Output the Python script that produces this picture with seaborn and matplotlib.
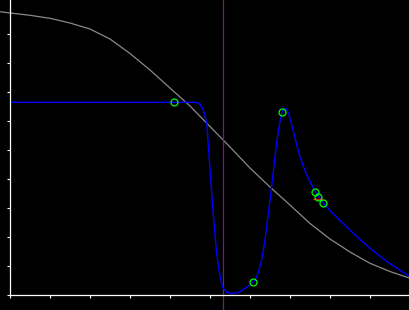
import numpy as np
import pandas as pd
import seaborn as sns
import matplotlib
matplotlib.use("Agg")
import matplotlib.pyplot as plt

# Gray reference curve
gray_x = [-0.25, 0.0, 0.5, 1.0, 1.5, 2.0, 2.5, 3.0, 3.5, 4.0, 4.5, 5.0, 5.5, 6.0,
          6.5, 7.0, 7.5, 8.0, 8.5, 9.0, 9.5, 10.0]
gray_y = [9.769, 9.724, 9.645, 9.541, 9.379, 9.172, 8.828, 8.328, 7.759, 7.138, 6.517,
          5.810, 5.103, 4.379, 3.724, 3.103, 2.466, 1.931, 1.483, 1.093, 0.810, 0.576]

# Blue response curve
blue_x = [0.0, 4.5, 4.62, 4.7, 4.76, 4.81, 4.85, 4.885, 4.92, 4.96, 5.02, 5.08, 5.15,
          5.21, 5.27, 5.33, 5.42, 5.5, 5.58, 5.67, 5.75, 5.92, 6.07, 6.17, 6.23, 6.29,
          6.375, 6.46, 6.54, 6.625, 6.71, 6.8, 6.85, 6.9, 6.95, 7.025, 7.1, 7.175, 7.25,
          7.35, 7.45, 7.55, 7.65, 7.825, 8.0, 8.175, 8.375, 8.575, 9.0, 9.425, 10.0]
blue_y = [6.645, 6.645, 6.645, 6.62, 6.55, 6.44, 6.30, 6.12, 5.93, 5.11, 3.97, 2.82, 1.67,
          0.976, 0.517, 0.231, 0.093, 0.062, 0.059, 0.075, 0.114, 0.266, 0.438, 0.631, 0.88,
          1.207, 1.897, 2.817, 3.734, 4.769, 5.690, 6.321, 6.431, 6.431, 6.310, 5.966,
          5.552, 5.138, 4.759, 4.379, 4.052, 3.776, 3.534, 3.190, 2.914, 2.672, 2.403,
          2.138, 1.610, 1.148, 0.631]

# Marker points
mark_x = [4.11, 6.07, 6.81, 7.625, 7.71, 7.825]
mark_y = [6.645, 0.438, 6.31, 3.55, 3.379, 3.183]

# Red segment
red_x = [7.57, 7.80]
red_y = [3.32, 3.32]

vline_x = 5.33

sns.set_theme(style="dark", rc={"axes.facecolor": "black", "figure.facecolor": "black"})

fig = plt.figure(figsize=(4.1, 3.1), dpi=100)
ax = fig.add_axes([0, 0, 1, 1])
ax.set_facecolor("black")

sns.lineplot(x=gray_x, y=gray_y, ax=ax, color="#8a8a8a", linewidth=0.9,
             estimator=None, sort=False)
ax.axvline(vline_x, color="#86108a", linewidth=0.9)
sns.lineplot(x=blue_x, y=blue_y, ax=ax, color="#0000ff", linewidth=1.0,
             estimator=None, sort=False)
ax.plot(red_x, red_y, color="#ff0000", linewidth=1.0)
ax.plot(mark_x, mark_y, linestyle="none", marker="o", markersize=5,
        markerfacecolor="none", markeredgecolor="#00ff00", markeredgewidth=0.9)

ax.set_xlim(-0.25, 10.0)
ax.set_ylim(-15 / 29, 295 / 29)

ax.spines["top"].set_visible(False)
ax.spines["right"].set_visible(False)
for s in ["left", "bottom"]:
    ax.spines[s].set_visible(True)
    ax.spines[s].set_color("white")
    ax.spines[s].set_linewidth(0.9)
ax.spines["left"].set_position(("data", 0))
ax.spines["bottom"].set_position(("data", 0))
ax.spines["left"].set_bounds(0, 295 / 29)
ax.spines["bottom"].set_bounds(0, 10.0)

ax.set_xticks(list(range(0, 11)))
ax.set_yticks(list(range(0, 10)))
ax.tick_params(axis="both", direction="out", length=2.4, width=0.8, colors="white",
               labelleft=False, labelbottom=False, left=True, bottom=True)
ax.grid(False)
ax.set_xlabel("")
ax.set_ylabel("")

fig.savefig("out.png", dpi=100, facecolor="black")
